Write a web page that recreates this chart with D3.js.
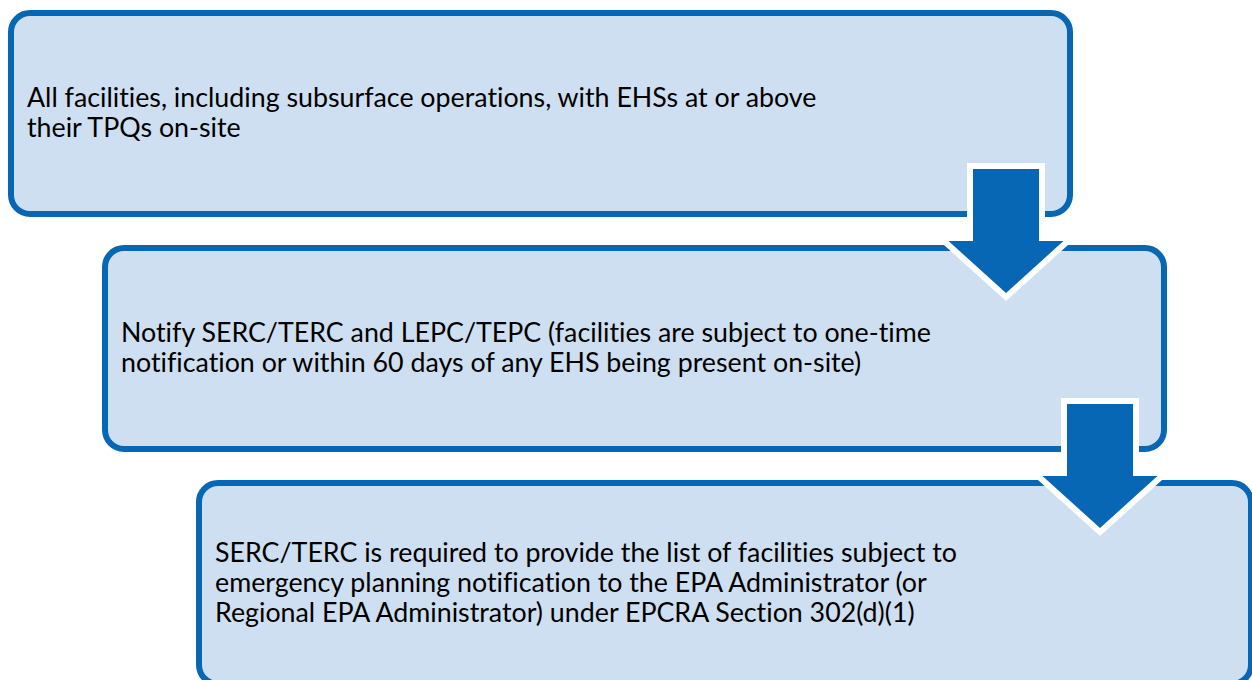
<!DOCTYPE html>
<html>
<head>
<meta charset="utf-8">
<script src="https://cdn.jsdelivr.net/npm/d3@7"></script>
<style>
  html, body { margin: 0; padding: 0; background: #ffffff; }
  svg { display: block; }
  text { font-variant-ligatures: none; font-feature-settings: "liga" 0, "clig" 0, "dlig" 0; }
</style>
</head>
<body>
<script>
// ---- data ----
const steps = ["Step 1", "Step 2", "Step 3"];
const stepLines = [
  ["All facilities, including subsurface operations, with EHSs at or above",
   "their TPQs on-site"],
  ["Notify SERC/TERC and LEPC/TEPC (facilities are subject to one-time",
   "notification or within 60 days of any EHS being present on-site)"],
  ["SERC/TERC is required to provide the list of facilities subject to",
   "emergency planning notification to the EPA Administrator (or",
   "Regional EPA Administrator) under EPCRA Section 302(d)(1)"]
];

// ---- layout ----
const W = 1252, H = 680;
const fill = "#cddff0", blue = "#0767b4";
const boxW = 1065, boxH = 207, sw = 6, r = 19;

const xPos = d3.scaleLinear().domain([0, 1]).range([8, 102]);   // outer left edge per step
const yPos = d3.scaleLinear().domain([0, 1]).range([10, 245]);  // outer top edge per step

const svg = d3.select("body").append("svg").attr("width", W).attr("height", H);

const boxes = svg.selectAll("g.box").data(steps).join("g").attr("class", "box");
boxes.append("rect")
  .attr("x", (d, i) => xPos(i) + sw / 2)
  .attr("y", (d, i) => yPos(i) + sw / 2)
  .attr("width", (d, i) => Math.min(boxW, W + 2 - xPos(i)) - sw)
  .attr("height", boxH - sw)
  .attr("rx", r).attr("ry", r)
  .attr("fill", fill)
  .attr("stroke", blue)
  .attr("stroke-width", sw);

const fontFamily = "Lato, 'Open Sans', sans-serif";
const lineH = 30;
const texts = boxes.append("text")
  .attr("font-family", fontFamily)
  .attr("font-size", 24)
  .attr("fill", "#000");
texts.each(function (d, i) {
  const lines = stepLines[i];
  const cy = yPos(i) + boxH / 2;
  const first = cy - (lines.length - 1) * lineH / 2 + 8;
  d3.select(this).selectAll("tspan").data(lines).join("tspan")
    .attr("x", xPos(i) + 19)
    .attr("y", (l, j) => first + j * lineH)
    .text(l => l);
});
// fit font size so the first line spans roughly the measured width
const firstSpan = texts.filter((d, i) => i === 0).select("tspan").node();
const measured = firstSpan.getComputedTextLength();
const fs = 24 * 790 / measured;
texts.attr("font-size", fs);

// ---- arrows ----
const arrowData = d3.range(steps.length - 1);
const arrowPath = i => {
  const right = xPos(i) + boxW;
  const top = yPos(i);
  const cx = right - 67;
  const sTop = top + 159, hBase = top + 231, tip = top + 283;
  const sh = 33, hh = 57.5;
  return `M${cx - sh},${sTop}L${cx + sh},${sTop}L${cx + sh},${hBase}L${cx + hh},${hBase}` +
         `L${cx},${tip}L${cx - hh},${hBase}L${cx - sh},${hBase}Z`;
};
svg.selectAll("path.arrow").data(arrowData).join("path")
  .attr("class", "arrow")
  .attr("d", arrowPath)
  .attr("fill", blue)
  .attr("stroke", "#ffffff")
  .attr("stroke-width", 12)
  .attr("stroke-linejoin", "miter")
  .attr("paint-order", "stroke fill");
</script>
</body>
</html>
